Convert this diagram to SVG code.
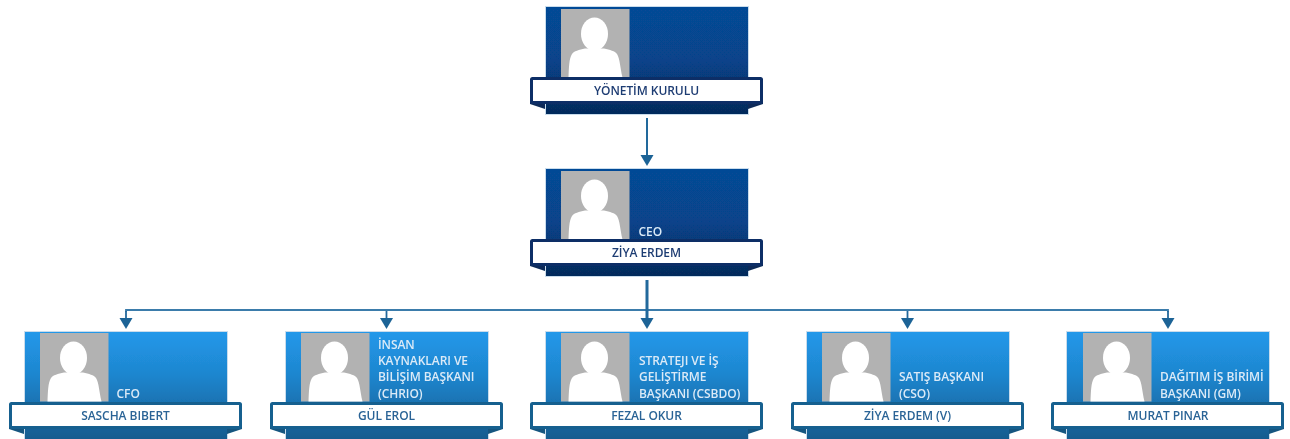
<svg xmlns="http://www.w3.org/2000/svg" width="1290" height="439" viewBox="0 0 1290 439">
<style>
text{font-family:"Open Sans","Liberation Sans",sans-serif;font-weight:600;font-size:12px;letter-spacing:-.06px}
.n{text-anchor:middle}
.t{fill:#dbeaf7}
.a .n{fill:#1f3d73}
.b .n{fill:#2a6496}
.a .card{fill:url(#ga)}
.b .card{fill:url(#gb)}
.card{stroke:#c9dcec;stroke-width:1}
.a .ban{stroke:#0a2f66;fill:#fff}
.b .ban{stroke:#14608f;fill:#fff}
.ban{stroke-width:3}
.a .fold{fill:#0a2a58}
.b .fold{fill:#12557f}
.c{fill:none;stroke:#23699c}
.h{stroke:#3a7bab}
</style>
<defs>
<filter id="soft" x="0" y="0" width="100%" height="100%"><feGaussianBlur stdDeviation="0.4"/></filter>
<linearGradient id="ga" x1="0" y1="0" x2="0" y2="1"><stop offset="0" stop-color="#064a96"/><stop offset=".5" stop-color="#07438a"/><stop offset="1" stop-color="#062a5a"/></linearGradient>
<linearGradient id="gb" x1="0" y1="0" x2="0" y2="1"><stop offset="0" stop-color="#2298ea"/><stop offset=".4" stop-color="#1e86cf"/><stop offset="1" stop-color="#135b8e"/></linearGradient>
<marker id="ah" markerUnits="userSpaceOnUse" markerWidth="14" markerHeight="12" refX="7" refY="11" orient="0" viewBox="0 0 14 12"><path d="M.5 0H13.500L7 11Z" fill="#1d6496"/></marker>
<g id="photo">
<rect width="68.500" height="68.500" fill="#b2b2b2"/>
<ellipse cx="33.500" cy="25" rx="13.500" ry="16.500" fill="#fff"/>
<path d="M7.500 68.500C8 58 8 50 11 45C13 42 18 41 24 39.500H43C49 41 54 42 56 45C59 50 59 58 61.500 68.500Z" fill="#fff"/>
</g>
</defs>
<g filter="url(#soft)">
<g id="connectors">
<path class="c" stroke-width="2" d="M647 118V166" stroke-dasharray="40 100" marker-end="url(#ah)"/>
<path class="c h" stroke-width="1.800" d="M126 312V310H1168V312"/>
<path class="c" stroke-width="1.800" d="M126 311V329" stroke-dasharray="8 100" marker-end="url(#ah)"/>
<path class="c" stroke-width="1.800" d="M386.500 311V329" stroke-dasharray="8 100" marker-end="url(#ah)"/>
<path class="c" stroke-width="1.800" d="M907.500 311V329" stroke-dasharray="8 100" marker-end="url(#ah)"/>
<path class="c" stroke-width="1.800" d="M1168 311V329" stroke-dasharray="8 100" marker-end="url(#ah)"/>
<path class="c" stroke-width="3" d="M647 280V329" stroke-dasharray="39 100" marker-end="url(#ah)"/>
</g>
<g id="node-yk" class="a" transform="translate(545 6)">
<rect class="card" x="0.500" y="0.500" width="203" height="108"/>
<use href="#photo" x="16" y="3"/>
<path class="fold" d="M-15 96V98L0 103V96Z M218 96V98L203 103V96Z"/>
<rect class="ban" x="-13.500" y="72.500" width="230" height="24" rx="1"/>
<text class="n" x="101.500" y="89">YÖNETİM KURULU</text>
</g>
<g id="node-ceo" class="a" transform="translate(545 168)">
<rect class="card" x="0.500" y="0.500" width="203" height="108"/>
<use href="#photo" x="16" y="3"/>
<text class="t" x="93.500" y="68">CEO</text>
<path class="fold" d="M-15 96V98L0 103V96Z M218 96V98L203 103V96Z"/>
<rect class="ban" x="-13.500" y="72.500" width="230" height="24" rx="1"/>
<text class="n" x="101.500" y="89">ZİYA ERDEM</text>
</g>
<g id="node-cfo" class="b" transform="translate(24 331)">
<rect class="card" x="0.500" y="0.500" width="203" height="108"/>
<use href="#photo" x="16" y="2"/>
<text class="t" x="92.500" y="67">CFO</text>
<path class="fold" d="M-15 96V98L0 103V96Z M218 96V98L203 103V96Z"/>
<rect class="ban" x="-13.500" y="72.500" width="230" height="24" rx="1"/>
<text class="n" x="101.500" y="89">SASCHA BIBERT</text>
</g>
<g id="node-chrio" class="b" transform="translate(285 331)">
<rect class="card" x="0.500" y="0.500" width="203" height="108"/>
<use href="#photo" x="16" y="2"/>
<text class="t" x="93" y="18">İNSAN</text>
<text class="t" x="93" y="33.500">KAYNAKLARI VE</text>
<text class="t" x="93" y="50">BİLİŞİM BAŞKANI</text>
<text class="t" x="93" y="67">(CHRIO)</text>
<path class="fold" d="M-15 96V98L0 103V96Z M218 96V98L203 103V96Z"/>
<rect class="ban" x="-13.500" y="72.500" width="230" height="24" rx="1"/>
<text class="n" x="101.500" y="89">GÜL EROL</text>
</g>
<g id="node-csbdo" class="b" transform="translate(545 331)">
<rect class="card" x="0.500" y="0.500" width="203" height="108"/>
<use href="#photo" x="16" y="2"/>
<text class="t" x="94" y="33.500">STRATEJI VE İŞ</text>
<text class="t" x="94" y="50">GELİŞTİRME</text>
<text class="t" x="94" y="67">BAŞKANI (CSBDO)</text>
<path class="fold" d="M-15 96V98L0 103V96Z M218 96V98L203 103V96Z"/>
<rect class="ban" x="-13.500" y="72.500" width="230" height="24" rx="1"/>
<text class="n" x="101.500" y="89">FEZAL OKUR</text>
</g>
<g id="node-cso" class="b" transform="translate(806 331)">
<rect class="card" x="0.500" y="0.500" width="203" height="108"/>
<use href="#photo" x="16" y="2"/>
<text class="t" x="93" y="50">SATIŞ BAŞKANI</text>
<text class="t" x="93" y="67">(CSO)</text>
<path class="fold" d="M-15 96V98L0 103V96Z M218 96V98L203 103V96Z"/>
<rect class="ban" x="-13.500" y="72.500" width="230" height="24" rx="1"/>
<text class="n" x="101.500" y="89">ZİYA ERDEM (V)</text>
</g>
<g id="node-gm" class="b" transform="translate(1066 331)">
<rect class="card" x="0.500" y="0.500" width="203" height="108"/>
<use href="#photo" x="17" y="2"/>
<text class="t" x="94" y="50">DAĞITIM İŞ BİRİMİ</text>
<text class="t" x="94" y="67">BAŞKANI (GM)</text>
<path class="fold" d="M-15 96V98L0 103V96Z M218 96V98L203 103V96Z"/>
<rect class="ban" x="-13.500" y="72.500" width="230" height="24" rx="1"/>
<text class="n" x="102" y="89">MURAT PINAR</text>
</g>
</g>
</svg>
